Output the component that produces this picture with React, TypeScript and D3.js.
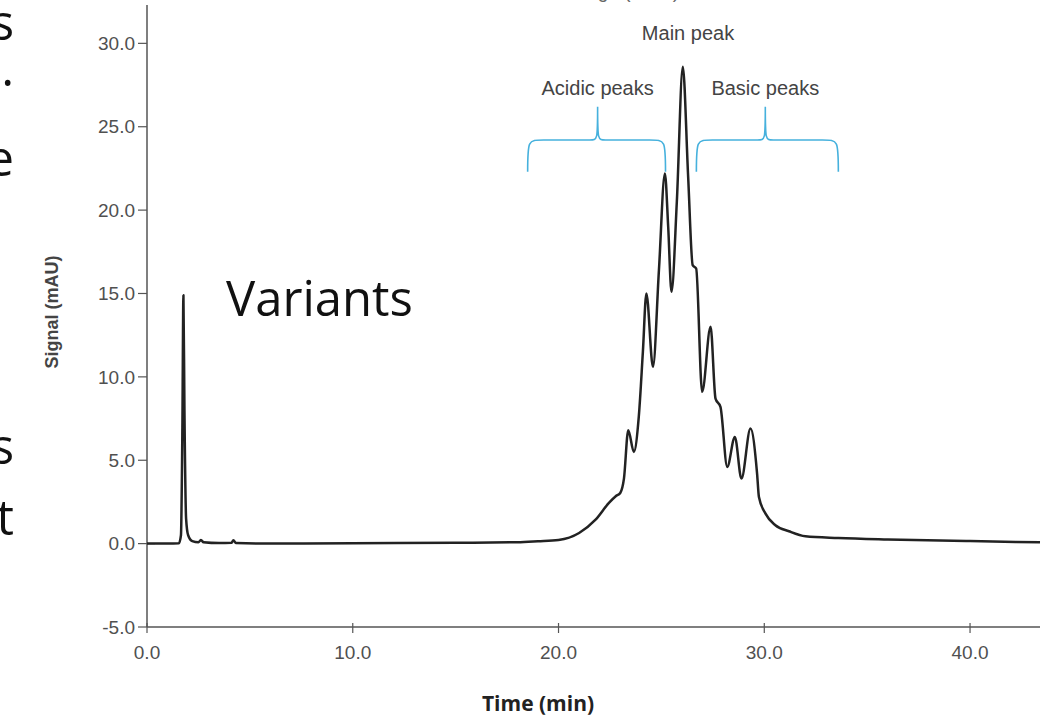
import React from "react";
import * as d3 from "d3";

const time: number[] = [
  0, 1.0, 1.55, 1.65, 1.72, 1.77, 1.82, 1.9, 2.0, 2.2, 2.5, 2.62, 2.75, 3.5, 4.1, 4.2, 4.32, 6, 10, 15, 18,
  19, 20, 21, 21.8, 22.45, 22.78, 23.0, 23.18, 23.39, 23.66, 23.9, 24.1, 24.27, 24.59, 24.88, 25.17, 25.33,
  25.49, 25.75, 26.04, 26.3, 26.52, 26.69, 26.98, 27.39, 27.63, 27.87, 28.2, 28.57, 28.89, 29.33, 29.65,
  29.74, 30.06, 30.54, 31.2, 32.0, 33.6, 36, 40, 43.4,
];
const signal: number[] = [
  0, 0, 0.02, 0.5, 7, 14.9, 8, 1.5, 0.5, 0.15, 0.08, 0.22, 0.08, 0.03, 0.05, 0.2, 0.04, 0.0, 0.02, 0.05, 0.08,
  0.14, 0.22, 0.64, 1.44, 2.44, 2.84, 3.04, 3.9, 6.8, 5.5, 7.6, 11.5, 15.0, 10.6, 16.4, 22.2, 19.0,
  15.1, 20.5, 28.6, 22.0, 16.7, 16.5, 9.1, 13.0, 8.7, 8.2, 4.6, 6.4, 3.9, 6.9, 4.2,
  2.8, 1.8, 1.1, 0.74, 0.44, 0.34, 0.25, 0.15, 0.08,
];
const xTicks: number[] = [0, 10, 20, 30, 40];
const yTicks: number[] = [-5, 0, 5, 10, 15, 20, 25, 30];
const bracketLabels: string[] = ["Acidic peaks", "Basic peaks"];
const bracketRanges: [number, number, number][] = [
  [18.5, 21.9, 25.2],
  [26.7, 30.05, 33.6],
];
const sideFragments: string[] = ["s", ".", "e", "s", "t"];

const W = 1046;
const H = 715;
const M = { left: 147, right: 6, top: 5, bottom: 88 };

export default function App() {
  const x = d3.scaleLinear().domain([0, 43.4]).range([M.left, W - M.right]);
  const y = d3.scaleLinear().domain([-5, 32.3]).range([H - M.bottom, M.top]);
  const pts = time.map((t, i) => [t, signal[i]] as [number, number]);
  const line = d3
    .line<[number, number]>()
    .x((d) => x(d[0]))
    .y((d) => y(d[1]))
    .curve(d3.curveMonotoneX);
  const axisColor = "#555";
  const tickColor = "#505050";
  const fragY = [40, 86, 176, 464, 535];
  const font = "Arial, Liberation Sans, sans-serif";

  const bracePath = (a: number, mid: number, b: number) => {
    const xa = x(a), xm = x(mid), xb = x(b);
    const yb = y(22.3), yh = y(24.2), yt = y(26.2);
    const r = 8;
    return `M${xa},${yb} C${xa},${yh} ${xa},${yh} ${xa + r * 2},${yh} L${xm - r},${yh} C${xm},${yh} ${xm},${yh} ${xm},${yt} C${xm},${yh} ${xm},${yh} ${xm + r},${yh} L${xb - r * 2},${yh} C${xb},${yh} ${xb},${yh} ${xb},${yb}`;
  };

  return (
    <svg width={W} height={H} style={{ display: "block", background: "#fff" }}>
      <style>{`body{margin:0}`}</style>
      {sideFragments.map((s, i) => (
        <text key={i} x={14} y={fragY[i]} textAnchor="end" fontFamily="Open Sans, sans-serif" fontSize={49} fill="#111">
          {s}
        </text>
      ))}
      <text x={592} y={-2} textAnchor="middle" fontFamily={font} fontSize={19} fill="#666">
        Ion exchange (mAU)
      </text>
      {/* y axis */}
      <line x1={M.left} x2={M.left} y1={M.top} y2={H - M.bottom} stroke={axisColor} strokeWidth={1.5} />
      {yTicks.map((t) => (
        <g key={t}>
          <line x1={M.left - 9} x2={M.left} y1={y(t)} y2={y(t)} stroke={axisColor} strokeWidth={1.2} />
          {t === 0 && <line x1={M.left} x2={M.left + 8} y1={y(t)} y2={y(t)} stroke={axisColor} strokeWidth={1.2} />}
          <text x={M.left - 12} y={y(t)} dy="0.35em" textAnchor="end" fontFamily={font} fontSize={19} fill={tickColor}>
            {t.toFixed(1)}
          </text>
        </g>
      ))}
      {/* x axis */}
      <line x1={M.left} x2={W - M.right} y1={H - M.bottom} y2={H - M.bottom} stroke={axisColor} strokeWidth={1.5} />
      {xTicks.map((t) => (
        <g key={t}>
          <line x1={x(t)} x2={x(t)} y1={H - M.bottom - 4} y2={H - M.bottom + 6} stroke={axisColor} strokeWidth={1.2} />
          <text x={x(t)} y={H - M.bottom + 32} textAnchor="middle" fontFamily={font} fontSize={19} fill={tickColor}>
            {t.toFixed(1)}
          </text>
        </g>
      ))}
      <text
        transform={`translate(58,312) rotate(-90)`}
        textAnchor="middle"
        fontFamily={font}
        fontWeight="bold"
        fontSize={18}
        fill="#444"
      >
        Signal (mAU)
      </text>
      <text x={538} y={711} textAnchor="middle" fontFamily="Open Sans, sans-serif" fontWeight="bold" fontSize={21} fill="#222">
        Time (min)
      </text>
      {bracketRanges.map((r, i) => (
        <g key={i}>
          <path d={bracePath(r[0], r[1], r[2])} fill="none" stroke="#46b1dd" strokeWidth={1.6} />
          <text x={x(r[1])} y={95} textAnchor="middle" fontFamily={font} fontSize={20} fill="#444">
            {bracketLabels[i]}
          </text>
        </g>
      ))}
      <text x={688} y={40} textAnchor="middle" fontFamily={font} fontSize={20} fill="#444">
        Main peak
      </text>
      <text x={226} y={316} fontFamily="Open Sans, sans-serif" fontSize={49} fill="#111">
        Variants
      </text>
      <path d={line(pts) ?? ""} fill="none" stroke="#222" strokeWidth={2.5} strokeLinejoin="round" />
    </svg>
  );
}
